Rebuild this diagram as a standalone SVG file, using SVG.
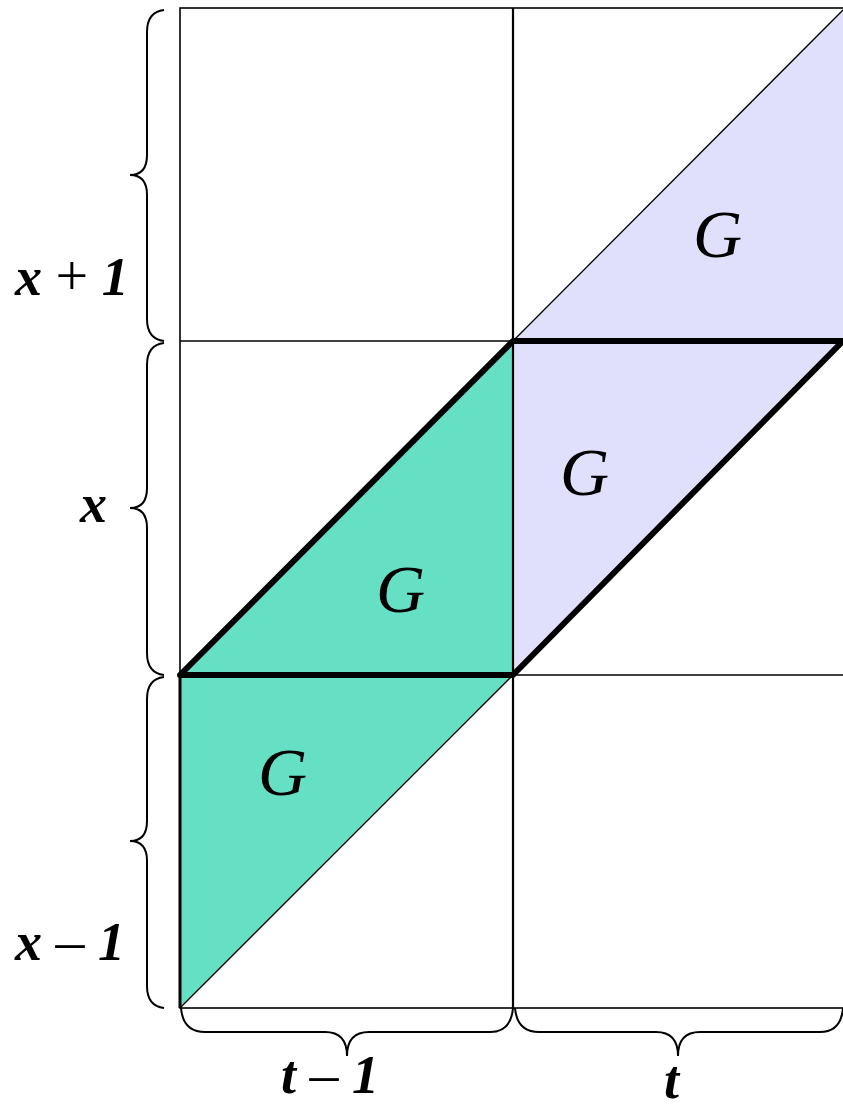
<svg xmlns="http://www.w3.org/2000/svg" width="843" height="1110" viewBox="0 0 843 1110">
<style>
.grid{fill:none;stroke:#000;stroke-width:1.6}
.thin{fill:none;stroke:#000;stroke-width:1.3}
.bold{fill:none;stroke:#000;stroke-width:6;stroke-linejoin:round;stroke-linecap:round}
.brace{fill:none;stroke:#000;stroke-width:2}
.lav{fill:#e0e0fc}
.teal{fill:#66e0c4}
.g{font-family:"Liberation Serif",serif;font-style:italic;font-size:68px}
.lbl{font-family:"Liberation Serif",serif;font-style:italic;font-weight:bold;font-size:54px}
.op{font-style:normal;font-weight:normal;font-size:58px}
</style>
<rect width="843" height="1110" fill="#fff"/>
<g id="regions">
<polygon class="lav" points="513,341 843,10 843,341"/>
<polygon class="lav" points="513,341 843,341 513,675"/>
<polygon class="teal" points="180,675 513,341 513,675"/>
<polygon class="teal" points="180,675 513,675 180,1008"/>
</g>
<g id="grid">
<rect class="grid" x="180" y="8" width="700" height="1000"/>
<line class="grid" x1="513" y1="8" x2="513" y2="1008" style="stroke-width:2.2"/>
<line class="grid" x1="180" y1="341" x2="843" y2="341"/>
<line class="grid" x1="180" y1="675" x2="843" y2="675"/>
<line class="grid" x1="180" y1="675" x2="180" y2="1008" style="stroke-width:3"/>
</g>
<g id="connectors">
<line class="thin" x1="513" y1="341" x2="843" y2="10"/>
<line class="thin" x1="513" y1="675" x2="180" y2="1008"/>
<polygon class="bold" points="180,675 513,341 843,341 513,675"/>
</g>
<g id="braces">
<path class="brace" d="M164,10 Q147,12 147,32 L147,155 Q147,175 130,175 Q147,175 147,195 L147,319 Q147,339 164,341"/>
<path class="brace" d="M164,343 Q147,345 147,365 L147,488 Q147,508 130,508 Q147,508 147,528 L147,653 Q147,673 164,675"/>
<path class="brace" d="M164,677 Q147,679 147,699 L147,821 Q147,841 130,841 Q147,841 147,861 L147,986 Q147,1006 164,1008"/>
<path class="brace" d="M181,1008 Q183,1032 205,1032 L325,1032 Q347,1032 347,1056 Q347,1032 369,1032 L490,1032 Q511,1032 513,1008"/>
<path class="brace" d="M515,1008 Q517,1032 539,1032 L656,1032 Q678,1032 678,1056 Q678,1032 700,1032 L820,1032 Q841,1032 843,1008"/>
</g>
<g id="labels">
<text class="g" x="693" y="257">G</text>
<text class="g" x="560" y="495">G</text>
<text class="g" x="376" y="612">G</text>
<text class="g" x="258" y="795">G</text>
<text class="lbl" x="15" y="295">x <tspan class="op">+</tspan> 1</text>
<text class="lbl" x="80" y="522">x</text>
<text class="lbl" x="15" y="960">x <tspan class="op">–</tspan> 1</text>
<text class="lbl" x="281" y="1093">t <tspan class="op">–</tspan> 1</text>
<text class="lbl" x="664" y="1098">t</text>
</g>
</svg>
